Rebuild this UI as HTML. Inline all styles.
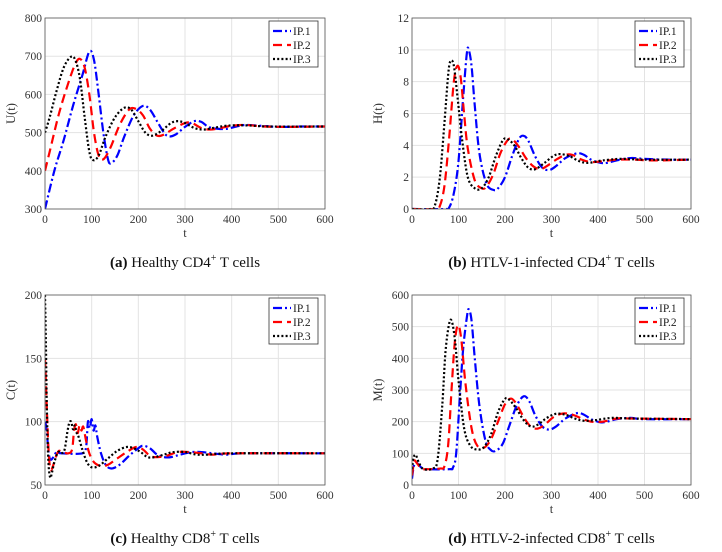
<!DOCTYPE html>
<html><head><meta charset="utf-8"><style>
html,body{margin:0;padding:0;background:#fff;}
svg{display:block;font-family:"Liberation Serif",serif;}
</style></head><body>
<svg id="c" width="722" height="552" viewBox="0 0 722 552" xmlns="http://www.w3.org/2000/svg"></svg>
<script>
// Panel a: U(t)
const uIP1=[[0,300],[20,400],[40,480],[60,570],[80,650],[95,712],[105,690],[115,600],[125,500],[135,430],[142,420],[155,440],[170,490],[190,545],[210,570],[225,560],[240,530],[255,500],[265,490],[280,495],[300,515],[320,530],[335,528],[350,515],[370,510],[390,510],[410,516],[430,520],[460,518],[500,515],[550,516],[600,516]];
const uIP2=[[0,400],[10,450],[30,550],[50,630],[65,680],[75,693],[85,670],[95,600],[105,500],[115,440],[125,430],[140,460],[160,520],[180,560],[195,562],[210,545],[225,510],[240,492],[255,495],[275,510],[300,525],[315,525],[335,512],[355,508],[380,513],[400,518],[430,520],[470,516],[520,515],[600,516]];
const uIP3=[[0,500],[10,540],[25,610],[40,670],[55,698],[65,690],[75,640],[85,540],[95,450],[103,428],[115,440],[130,490],[150,540],[170,565],[185,560],[200,530],[215,500],[230,492],[250,505],[270,525],[285,530],[300,525],[320,512],[340,508],[360,512],[390,518],[430,519],[480,516],[600,516]];
// Panel b: H(t)
const hIP1=[[0,0],[70,0],[80,0.1],[90,1],[100,3],[110,7],[118,9.8],[122,10],[128,9],[135,6.5],[145,3.5],[160,1.6],[175,1.2],[185,1.3],[200,2],[215,3.3],[230,4.4],[240,4.6],[250,4.3],[265,3.3],[280,2.6],[295,2.45],[310,2.7],[330,3.2],[355,3.5],[370,3.4],[385,3.1],[405,2.9],[420,2.9],[440,3.05],[470,3.2],[500,3.15],[550,3.1],[600,3.1]];
const hIP2=[[0,0],[50,0],[60,0.2],[70,1.5],[80,4.5],[90,8],[98,9],[105,8.2],[112,6],[120,3.8],[135,1.8],[150,1.3],[160,1.4],[175,2.2],[190,3.5],[205,4.3],[215,4.4],[230,3.9],[245,3.2],[260,2.7],[275,2.5],[290,2.7],[310,3.1],[330,3.4],[345,3.4],[365,3.1],[385,2.95],[410,3.0],[440,3.1],[480,3.1],[520,3.05],[600,3.1]];
const hIP3=[[0,0],[40,0],[50,0.3],[60,2],[70,5.5],[78,8.5],[83,9.3],[90,9.0],[98,7],[108,4.3],[120,2],[135,1.3],[150,1.3],[165,2],[180,3.3],[195,4.3],[205,4.4],[220,4],[235,3.2],[250,2.6],[265,2.5],[285,2.9],[305,3.35],[320,3.45],[340,3.3],[360,3.0],[380,2.9],[410,3.05],[450,3.15],[500,3.1],[600,3.1]];
// Panel c: C(t)
const cIP1=[[0,100],[3,95],[8,75],[12,70],[18,72],[25,76],[35,75],[80,75],[88,80],[92,100],[96,95],[100,102],[104,93],[108,97],[112,88],[120,75],[130,66],[142,63],[160,66],[180,73],[200,79],[210,81],[225,79],[240,74],[255,72],[270,72],[290,74],[315,76],[335,76],[360,75],[390,74],[430,75],[600,75]];
const cIP2=[[0,150],[2,130],[5,100],[8,75],[12,62],[18,66],[25,74],[30,77],[38,76],[50,75],[58,78],[62,92],[66,98],[70,91],[74,97],[78,93],[82,96],[88,85],[95,75],[105,68],[120,65],[135,66],[155,71],[175,76],[195,80],[210,78],[225,73],[240,72],[260,73],[285,76],[310,76],[335,75],[360,74],[400,75],[600,75]];
const cIP3=[[0,200],[2,160],[4,110],[7,70],[11,56],[15,60],[20,68],[28,76],[35,75],[42,78],[48,92],[52,99],[56,100],[60,94],[64,97],[68,91],[72,88],[80,78],[90,68],[100,64],[115,65],[135,71],[155,77],[175,80],[190,79],[205,76],[220,72],[235,72],[255,74],[275,76],[300,76],[325,74],[350,74],[400,75],[600,75]];
// Panel d: M(t)
const mIP1=[[0,20],[4,60],[10,70],[20,55],[30,50],[80,50],[88,55],[95,100],[103,280],[110,430],[118,530],[122,555],[128,520],[135,400],[145,250],[158,140],[170,110],[180,108],[195,130],[210,190],[225,250],[240,280],[252,265],[265,220],[280,185],[295,175],[310,185],[330,210],[355,227],[370,222],[385,208],[405,198],[420,200],[440,208],[470,212],[500,208],[600,208]];
const mIP2=[[0,30],[5,75],[10,70],[20,52],[30,50],[60,52],[70,60],[78,130],[85,300],[92,450],[99,505],[106,460],[115,320],[128,180],[140,125],[155,118],[170,145],[185,200],[200,255],[213,273],[225,255],[240,215],[255,185],[270,178],[285,190],[305,215],[325,226],[345,222],[365,210],[385,200],[410,200],[440,210],[470,210],[600,208]];
const mIP3=[[0,50],[3,85],[8,95],[15,70],[25,50],[45,52],[55,80],[65,250],[72,420],[80,510],[86,515],[93,450],[100,330],[112,180],[125,125],[140,112],[155,120],[170,160],[185,230],[200,272],[210,268],[225,240],[240,205],[255,185],[270,190],[290,212],[310,225],[330,222],[350,210],[370,203],[395,205],[430,212],[470,210],[600,208]];
const xTicks=[0,100,200,300,400,500,600];
const uTicks=[300,400,500,600,700,800];
const hTicks=[0,2,4,6,8,10,12];
const cTicks=[50,100,150,200];
const mTicks=[0,100,200,300,400,500,600];
const legendLabels=["IP.1","IP.2","IP.3"];

const NS="http://www.w3.org/2000/svg";
const svg=document.getElementById('c');
function mk(tag,attrs,parent){const e=document.createElementNS(NS,tag);for(const k in attrs)e.setAttribute(k,attrs[k]);(parent||svg).appendChild(e);return e;}
const styles=[{c:"#0000ff",d:"9,3,2,3"},{c:"#ff0000",d:"9,5"},{c:"#000000",d:"2,2.2"}];

function panel(key,x0,x1,y0,y1,ymin,ymax,yTicks,ylab,caption,bold,sup,series){
  const g=mk('g',{});
  
  
  const sx=v=>x0+(v/600)*(x1-x0);
  const sy=v=>y1-(v-ymin)/(ymax-ymin)*(y1-y0);
  mk('rect',{x:x0,y:y0,width:x1-x0,height:y1-y0,fill:'#fff'},g);
  xTicks.forEach(t=>{
    const l=mk('line',{x1:sx(t),x2:sx(t),y1:y0,y2:y1,stroke:'#e3e3e3','stroke-width':1},g);
    
    
    const tx=mk('text',{x:sx(t),y:y1+14,'font-size':11.5,'text-anchor':'middle',fill:'#333'},g);
    tx.textContent=t;
    
    
  });
  yTicks.forEach(t=>{
    const l=mk('line',{x1:x0,x2:x1,y1:sy(t),y2:sy(t),stroke:'#e3e3e3','stroke-width':1},g);
    
    
    const tx=mk('text',{x:x0-3,y:sy(t)+4,'font-size':11.5,'text-anchor':'end',fill:'#333'},g);
    tx.textContent=t;
    
    
  });
  const clipId='clip'+key;
  const cp=mk('clipPath',{id:clipId},g);
  mk('rect',{x:x0,y:y0,width:x1-x0,height:y1-y0},cp);
  series.forEach((pts,i)=>{
    const P=pts.map(p=>[sx(p[0]),sy(p[1])]);
    let d='M'+P[0][0].toFixed(2)+','+P[0][1].toFixed(2);
    for(let k=0;k<P.length-1;k++){
      const p0=P[Math.max(0,k-1)],p1=P[k],p2=P[k+1],p3=P[Math.min(P.length-1,k+2)];
      const c1=[p1[0]+(p2[0]-p0[0])/6,p1[1]+(p2[1]-p0[1])/6];
      const c2=[p2[0]-(p3[0]-p1[0])/6,p2[1]-(p3[1]-p1[1])/6];
      d+='C'+c1[0].toFixed(2)+','+c1[1].toFixed(2)+' '+c2[0].toFixed(2)+','+c2[1].toFixed(2)+' '+p2[0].toFixed(2)+','+p2[1].toFixed(2);
    }
    const path=mk('path',{d:d,fill:'none',stroke:styles[i].c,'stroke-width':2.2,'stroke-dasharray':styles[i].d,'clip-path':'url(#'+clipId+')'},g);
    
    
  });
  const fr=mk('rect',{x:x0,y:y0,width:x1-x0,height:y1-y0,fill:'none',stroke:'#555','stroke-width':0.8},g);
  
  
  // legend
  const lx=x1-56,ly=y0+3;
  const lg=mk('g',{},g);
  
  
  mk('rect',{x:lx,y:ly,width:49,height:46,fill:'#fff',stroke:'#333','stroke-width':0.8},lg);
  legendLabels.forEach((lab,i)=>{
    const yy=ly+10+i*14;
    const ln=mk('line',{x1:lx+4,x2:lx+22,y1:yy,y2:yy,stroke:styles[i].c,'stroke-width':2.2,'stroke-dasharray':styles[i].d},lg);
    
    
    const t=mk('text',{x:lx+24,y:yy+4,'font-size':11.5,fill:'#222'},lg);
    t.textContent=lab;
    
    
  });
  const yl=mk('text',{x:0,y:0,'font-size':12.5,'text-anchor':'middle',fill:'#333',transform:'translate('+(x0-30)+','+((y0+y1)/2)+') rotate(-90)'},g);
  yl.textContent=ylab;
  
  
  const xl=mk('text',{x:(x0+x1)/2,y:y1+28,'font-size':12.5,'text-anchor':'middle',fill:'#333'},g);
  xl.textContent='t';
  
  
  const cap=mk('text',{x:(x0+x1)/2,y:y1+58,'font-size':15,'text-anchor':'middle',fill:'#111'},g);
  
  
  const b=mk('tspan',{'font-weight':'bold'},cap);b.textContent=bold;
  const t1=mk('tspan',{},cap);t1.textContent=' '+caption;
  const s=mk('tspan',{'font-size':10,dy:-6},cap);s.textContent='+';
  const t2=mk('tspan',{dy:6},cap);t2.textContent=sup;
}
panel('a',45,325,18,209,300,800,uTicks,'U(t)','Healthy CD4','(a)',' T cells',[uIP1,uIP2,uIP3]);
panel('b',412,691,18,209,0,12,hTicks,'H(t)','HTLV-1-infected CD4','(b)',' T cells',[hIP1,hIP2,hIP3]);
panel('c',45,325,295,485,50,200,cTicks,'C(t)','Healthy CD8','(c)',' T cells',[cIP1,cIP2,cIP3]);
panel('d',412,691,295,485,0,600,mTicks,'M(t)','HTLV-2-infected CD8','(d)',' T cells',[mIP1,mIP2,mIP3]);
</script>
</body></html>
